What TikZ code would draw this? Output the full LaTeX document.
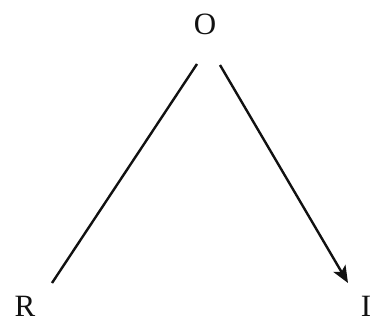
\documentclass[tikz,border=0pt]{standalone}
\usepackage{fontspec}
\setmainfont{Liberation Serif}
\usepackage{xcolor}
\definecolor{InkBlack}{HTML}{111111}
\usepackage{tikz}
\usetikzlibrary{arrows.meta, positioning, calc}
\tikzstyle{letter} = [text=InkBlack, inner sep=0pt, font=\fontsize{31}{36}\selectfont]
\tikzstyle{arrow} = [-{Stealth[length=17pt,width=14pt,inset=4pt]}, color=InkBlack, line width=2.4pt]
\tikzstyle{line} = [-, color=InkBlack, line width=2.4pt]

\begin{document}
\begin{tikzpicture}[x=1pt, y=1pt]
        \useasboundingbox (0,0) rectangle (375,325);
        \node [letter] (O) at (205,301) {O};
        \node [letter] (R) at (25,19) {R};
        \node [letter] (I) at (366,19) {I};

        % ends of the two strokes under O
        \coordinate (oLeft) at (197,261);
        \coordinate (oRight) at (220,260);
        \coordinate (rEnd) at (52,42);
        \coordinate (iEnd) at (348,42);

        \draw [line] (oLeft) -- (rEnd);
        \draw [arrow] (oRight) -- (iEnd);
    \end{tikzpicture}
\end{document}
